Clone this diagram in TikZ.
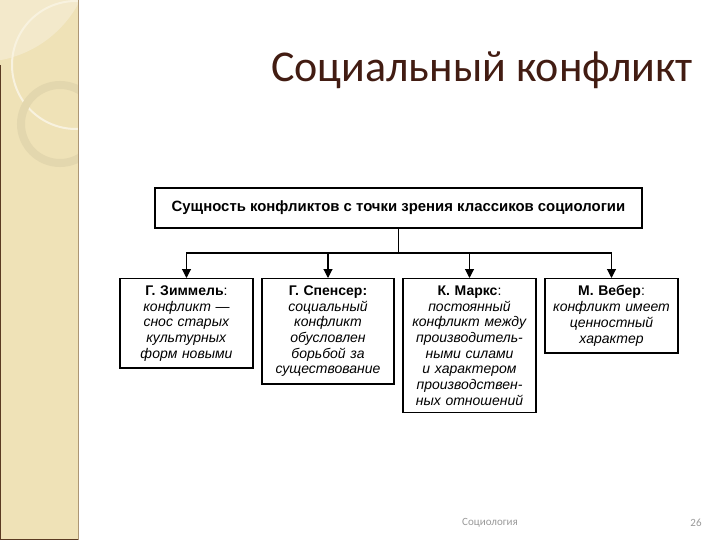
\documentclass[tikz,border=0pt]{standalone}
\usepackage{fontspec}
\setmainfont{Liberation Sans}
\newfontfamily\titlefont{Carlito}
\usetikzlibrary{arrows.meta}
\definecolor{sidebeige}{HTML}{EFE2B7}
\definecolor{sidelight}{HTML}{F3E9CB}
\definecolor{sideline}{HTML}{5A3A22}
\definecolor{titlebrown}{HTML}{421C12}
\definecolor{footgrey}{HTML}{9A9A9A}

\begin{document}
\begin{tikzpicture}[x=1pt,y=-1pt,
    headbox/.style={draw, line width=1.4pt, minimum width=487pt, minimum height=40pt,
      font=\fontsize{14.9}{15}\selectfont\bfseries},
    personbox/.style={draw, line width=1.4pt, anchor=north, align=center,
      inner xsep=2pt, inner ysep=7pt, font=\fontsize{14}{15.7}\selectfont},
    arr/.style={line width=1.1pt, -{Triangle[length=9pt,width=9pt]}}]
\useasboundingbox (0,0) rectangle (720,540);
\fill[white] (0,0) rectangle (720,540);
\begin{scope}
\clip (0,0) rectangle (78,540);
\fill[sidebeige] (0,0) rectangle (78,540);
\fill[sidelight] (-20,-50) circle (112);
\draw[white!55!sidebeige, line width=2pt] (76,65) circle (64);
\draw[black!5!sidebeige, line width=8pt] (60,124) circle (39);
\end{scope}
\draw[sideline!45!sidebeige, line width=0.8pt] (78,0) -- (78,540);
\draw[sideline, line width=1.2pt] (0.6,65) -- (0.6,539.4) -- (78,539.4);
\node at (482,70) (title) {\titlefont\fontsize{44}{44}\selectfont\color{titlebrown}Социальный конфликт};
\node at (398.5,208) (top) [headbox] {Сущность конфликтов с точки зрения классиков социологии};
\node at (186.5,278) (zimmel) [personbox, text width=129pt] {\textbf{Г. Зиммель}:\\ \textit{конфликт —}\\ \textit{снос старых}\\ \textit{культурных}\\ \textit{форм новыми}};
\node at (328,278) (spencer) [personbox, text width=128pt] {\textbf{Г. Спенсер:}\\ \textit{социальный}\\ \textit{конфликт}\\ \textit{обусловлен}\\ \textit{борьбой за}\\ \textit{существование}};
\node at (469.5,278) (marx) [personbox, text width=129pt] {\textbf{К. Маркс}:\\ \textit{постоянный}\\ \textit{конфликт между}\\ \textit{производитель-}\\ \textit{ными силами}\\ \textit{и характером}\\ \textit{производствен-}\\ \textit{ных отношений}};
\node at (611.5,278) (weber) [personbox, text width=129pt] {\textbf{М. Вебер}:\\ \textit{конфликт имеет}\\ \textit{ценностный}\\ \textit{характер}};
\coordinate (hub) at (398.5,253);
\draw[line width=1.1pt] (top.south) -- (hub);
\draw[arr] (hub) -| (zimmel.north);
\draw[arr] (hub) -| (spencer.north);
\draw[arr] (hub) -| (marx.north);
\draw[arr] (hub) -| (weber.north);
\node at (490,523) (course) {\titlefont\fontsize{11}{11}\selectfont\color{footgrey}Социология};
\node at (696,523) (page) {\titlefont\fontsize{11}{11}\selectfont\color{footgrey}26};
\end{tikzpicture}
\end{document}
